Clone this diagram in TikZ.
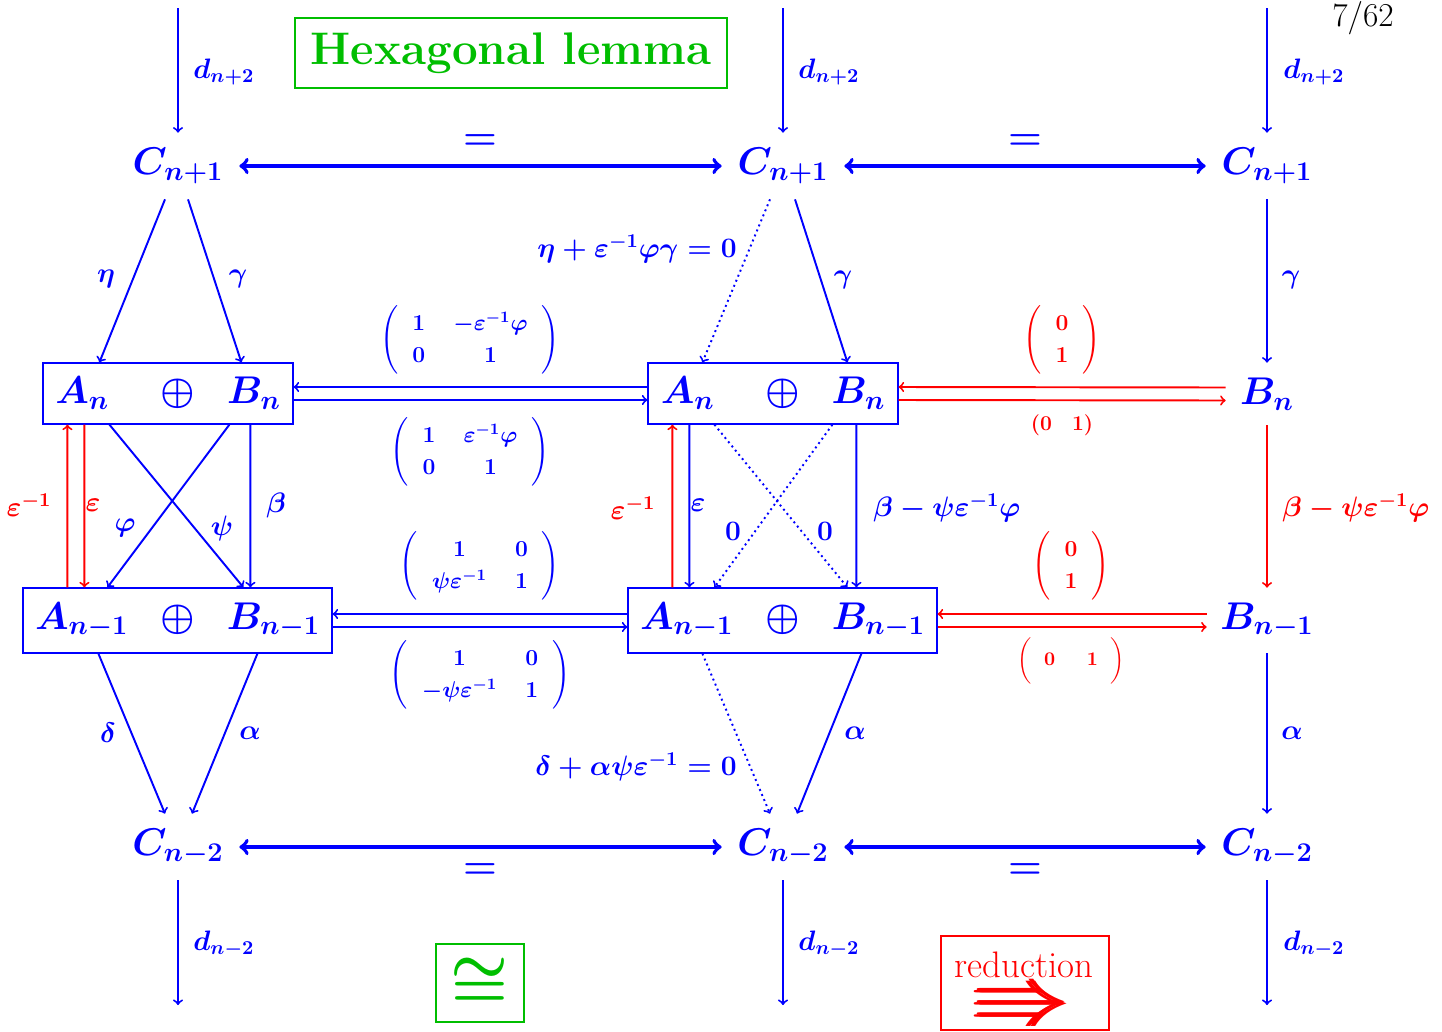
\RequirePackage{fix-cm}
\documentclass[tikz,border=0pt]{standalone}
\usepackage{amsmath,amssymb,graphicx}
\usetikzlibrary{calc}
\definecolor{myblue}{RGB}{0,0,255}
\definecolor{myred}{RGB}{255,0,0}
\definecolor{mygreen}{RGB}{0,190,0}
\newcommand\mymat[1]{\left(\renewcommand\arraystretch{1.22}\setlength\arraycolsep{8pt}\begin{array}{cc}#1\end{array}\right)}
\newcommand\mycol[1]{\left(\renewcommand\arraystretch{1.22}\setlength\arraycolsep{8pt}\begin{array}{c}#1\end{array}\right)}
\begin{document}
\begin{tikzpicture}[x=0.02cm,y=-0.02cm,
  obj/.style={text=myblue,font=\fontsize{22}{26}\selectfont\boldmath,inner sep=0,minimum width=2.44cm,minimum height=1.32cm},
  bigbox/.style={draw=myblue,line width=0.7pt,text=myblue,font=\fontsize{22}{26}\selectfont\boldmath,inner sep=0},
  arr/.style={->,line width=1.1pt,draw=myblue},
  redarr/.style={->,line width=1.1pt,draw=myred},
  eqarr/.style={<->,line width=2.2pt,draw=myblue},
  dotarr/.style={->,dotted,line width=1.1pt,draw=myblue},
  lab/.style={text=myblue,font=\fontsize{16}{19}\selectfont\boldmath,inner sep=0},
  rlab/.style={lab,text=myred},
  eqlab/.style={lab,font=\fontsize{16}{19}\selectfont\boldmath},
  bigeq/.style={lab,font=\fontsize{22}{26}\selectfont\boldmath},
  mat/.style={text=myblue,font=\fontsize{13}{15}\selectfont\boldmath,inner sep=0},
  rmat/.style={mat,text=myred}
]
\useasboundingbox (0,0) rectangle (1442,1031);

% ---------- objects ----------
\node[obj] (Ct1) at (178,166) {$C_{n+1}$};
\node[obj] (Ct2) at (783,166) {$C_{n+1}$};
\node[obj] (Ct3) at (1267,166) {$C_{n+1}$};
\node[obj] (Cb1) at (178,847) {$C_{n-2}$};
\node[obj] (Cb2) at (783,847) {$C_{n-2}$};
\node[obj] (Cb3) at (1267,847) {$C_{n-2}$};

\node[bigbox,minimum width=5cm,minimum height=1.22cm] (L1) at (168,393.5) {$A_n$\hspace{1.03cm}$\oplus$\hspace{0.64cm}$B_n$};
\node[bigbox,minimum width=5cm,minimum height=1.22cm] (M1) at (773,393.5) {$A_n$\hspace{1.01cm}$\oplus$\hspace{0.64cm}$B_n$};
\node[bigbox,minimum width=6.18cm,minimum height=1.3cm] (L2) at (177.5,620.5) {$A_{n-1}$\hspace{0.64cm}$\oplus$\hspace{0.64cm}$B_{n-1}$};
\node[bigbox,minimum width=6.18cm,minimum height=1.3cm] (M2) at (782.5,620.5) {$A_{n-1}$\hspace{0.64cm}$\oplus$\hspace{0.64cm}$B_{n-1}$};

\node[obj,minimum width=1.64cm,minimum height=1.24cm] (Bn) at (1267,394) {$B_n$};
\node[obj,minimum width=2.4cm,minimum height=1.3cm] (Bn1) at (1267,620.5) {$B_{n-1}$};

\coordinate (dt1) at (178,8);
\coordinate (dt2) at (783,8);
\coordinate (dt3) at (1267,8);
\coordinate (db1) at (178,1005);
\coordinate (db2) at (783,1005);
\coordinate (db3) at (1267,1005);

% ---------- vertical d arrows ----------
\draw[arr] (dt1) -- (Ct1.north);
\draw[arr] (dt2) -- (Ct2.north);
\draw[arr] (dt3) -- (Ct3.north);
\draw[arr] (Cb1.south) -- (db1);
\draw[arr] (Cb2.south) -- (db2);
\draw[arr] (Cb3.south) -- (db3);
\node[lab,anchor=west] (ld1) at (193,72) {$d_{n+2}$};
\node[lab,anchor=west] (ld2) at (798,72) {$d_{n+2}$};
\node[lab,anchor=west] (ld3) at (1283,72) {$d_{n+2}$};
\node[lab,anchor=west] (ld4) at (193,944) {$d_{n-2}$};
\node[lab,anchor=west] (ld5) at (798,944) {$d_{n-2}$};
\node[lab,anchor=west] (ld6) at (1283,944) {$d_{n-2}$};

% ---------- equalities ----------
\draw[eqarr] (Ct1.east) -- (Ct2.west);
\draw[eqarr] (Ct2.east) -- (Ct3.west);
\draw[eqarr] (Cb1.east) -- (Cb2.west);
\draw[eqarr] (Cb2.east) -- (Cb3.west);
\node[bigeq] (e1) at (480,142) {$=$};
\node[bigeq] (e2) at (1025,142) {$=$};
\node[bigeq] (e3) at (480,871) {$=$};
\node[bigeq] (e4) at (1025,871) {$=$};

% ---------- left column ----------
\draw[arr] ($(Ct1.south)+(-13,0)$) -- ($(L1.north west)+(57,0)$);
\draw[arr] ($(Ct1.south)+(10,0)$) -- ($(L1.north west)+(199,0)$);
\node[lab] (leta) at (106,279) {$\eta$};
\node[lab] (lgam1) at (238,279) {$\gamma$};
\draw[redarr] ($(L2.north west)+(45,0)$) -- ($(L1.south west)+(25,0)$);
\draw[redarr] ($(L1.south west)+(42,0)$) -- ($(L2.north west)+(62,0)$);
\draw[arr] ($(L1.south west)+(67,0)$) -- ($(L2.north west)+(221,0)$);
\draw[arr] ($(L1.south west)+(187,0)$) -- ($(L2.north west)+(85,0)$);
\draw[arr] ($(L1.south west)+(208,0)$) -- ($(L2.north west)+(228,0)$);
\node[rlab] (leinv1) at (29,505) {$\varepsilon^{-1}$};
\node[rlab] (leps1) at (93,505) {$\varepsilon$};
\node[lab] (lphi) at (125,528) {$\varphi$};
\node[lab] (lpsi) at (222,528) {$\psi$};
\node[lab] (lbeta) at (276,505) {$\beta$};
\draw[arr] ($(L2.south west)+(76,0)$) -- ($(Cb1.north)+(-13,0)$);
\draw[arr] ($(L2.south west)+(235,0)$) -- ($(Cb1.north)+(14,0)$);
\node[lab] (ldel) at (108,733) {$\delta$};
\node[lab] (lal1) at (250,733) {$\alpha$};

% ---------- middle column ----------
\draw[dotarr] ($(Ct2.south)+(-13,0)$) -- ($(M1.north west)+(55,0)$);
\draw[arr] ($(Ct2.south)+(12,0)$) -- ($(M1.north west)+(200,0)$);
\node[eqlab] (eq1) at (637,249) {$\eta+\varepsilon^{-1}\varphi\gamma=0$};
\node[lab] (lgam2) at (843,280) {$\gamma$};
\draw[redarr] ($(M2.north west)+(45,0)$) -- ($(M1.south west)+(25,0)$);
\draw[arr] ($(M1.south west)+(42,0)$) -- ($(M2.north west)+(62,0)$);
\draw[dotarr] ($(M1.south west)+(67,0)$) -- ($(M2.north west)+(220,0)$);
\draw[dotarr] ($(M1.south west)+(185,0)$) -- ($(M2.north west)+(87,0)$);
\draw[arr] ($(M1.south west)+(209,0)$) -- ($(M2.north west)+(229,0)$);
\node[rlab] (leinv2) at (633,508) {$\varepsilon^{-1}$};
\node[lab] (leps2) at (698,505) {$\varepsilon$};
\node[lab] (lz1) at (733,531) {$0$};
\node[lab] (lz2) at (825,531) {$0$};
\node[lab,anchor=west] (lbm) at (873,508) {$\beta-\psi\varepsilon^{-1}\varphi$};
\draw[dotarr] ($(M2.south west)+(75,0)$) -- ($(Cb2.north)+(-13,0)$);
\draw[arr] ($(M2.south west)+(234,0)$) -- ($(Cb2.north)+(14,0)$);
\node[eqlab] (eq2) at (636,767) {$\delta+\alpha\psi\varepsilon^{-1}=0$};
\node[lab] (lal2) at (855,733) {$\alpha$};

% ---------- right column ----------
\draw[arr] (Ct3.south) -- (Bn.north);
\node[lab] (lgam3) at (1291,280) {$\gamma$};
\draw[redarr] (Bn.south) -- (Bn1.north);
\node[rlab,anchor=west] (lbr) at (1282,508) {$\beta-\psi\varepsilon^{-1}\varphi$};
\draw[arr] (Bn1.south) -- (Cb3.north);
\node[lab] (lal3) at (1292,733) {$\alpha$};

% ---------- double arrows ----------
\draw[arr] ($(M1.west)+(0,-6.5)$) -- ($(L1.east)+(0,-6.5)$);
\draw[arr] ($(L1.east)+(0,6.5)$) -- ($(M1.west)+(0,6.5)$);
\draw[arr] ($(M2.west)+(0,-6.5)$) -- ($(L2.east)+(0,-6.5)$);
\draw[arr] ($(L2.east)+(0,6.5)$) -- ($(M2.west)+(0,6.5)$);
\draw[redarr] ($(Bn.west)+(0,-6.5)$) -- ($(M1.east)+(0,-6.5)$);
\draw[redarr] ($(M1.east)+(0,6.5)$) -- ($(Bn.west)+(0,6.5)$);
\draw[redarr] ($(Bn1.west)+(0,-6.5)$) -- ($(M2.east)+(0,-6.5)$);
\draw[redarr] ($(M2.east)+(0,6.5)$) -- ($(Bn1.west)+(0,6.5)$);

\node[mat] (ma1) at (470,340) {$\mymat{1 & -\varepsilon^{-1}\varphi\\ 0 & 1}$};
\node[mat] (ma2) at (470,452) {$\mymat{1 & \varepsilon^{-1}\varphi\\ 0 & 1}$};
\node[mat] (ma3) at (480,566) {$\mymat{1 & 0\\ \psi\varepsilon^{-1} & 1}$};
\node[mat] (ma4) at (480,675) {$\mymat{1 & 0\\ -\psi\varepsilon^{-1} & 1}$};
\node[rmat] (ma5) at (1062,340) {$\mycol{0\\ 1}$};
\node[rmat,font=\fontsize{12}{14}\selectfont\boldmath] (ma6) at (1062,425) {$(0\;\;\;1)$};
\node[rmat] (ma7) at (1071,566) {$\mycol{0\\ 1}$};
\node[rmat,font=\fontsize{11}{13}\selectfont\boldmath] (ma8) at (1071,661) {$\bigg(\;\;0\quad\;\;1\;\;\bigg)$};

% ---------- decorations ----------
\node[draw=mygreen,line width=0.7pt,text=mygreen,font=\fontsize{26}{30}\selectfont\bfseries,minimum width=8.64cm,minimum height=1.4cm,inner sep=0] (title) at (511,53) {Hexagonal lemma};
\node[draw=mygreen,line width=0.7pt,text=mygreen,font=\fontsize{37}{40}\selectfont\boldmath,minimum width=1.76cm,minimum height=1.56cm,inner sep=0] (iso) at (480,983) {$\cong$};
\node[draw=myred,line width=0.7pt,minimum width=3.36cm,minimum height=1.88cm,inner sep=0] (reduc) at (1025,983) {};
\node[text=myred,font=\fontsize{21}{22}\selectfont,inner sep=0,anchor=base] (reductxt) at (1024,977) {reduction};
\node[text=myred,font=\fontsize{21}{22}\selectfont,inner sep=0] (reducarr) at (1024,1003) {\scalebox{2.75}[1.7]{$\pmb{\Rrightarrow}$}};
\node[font=\fontsize{19}{22}\selectfont,inner sep=0,anchor=base] (pg) at (1363,27) {7/62};
\end{tikzpicture}
\end{document}
